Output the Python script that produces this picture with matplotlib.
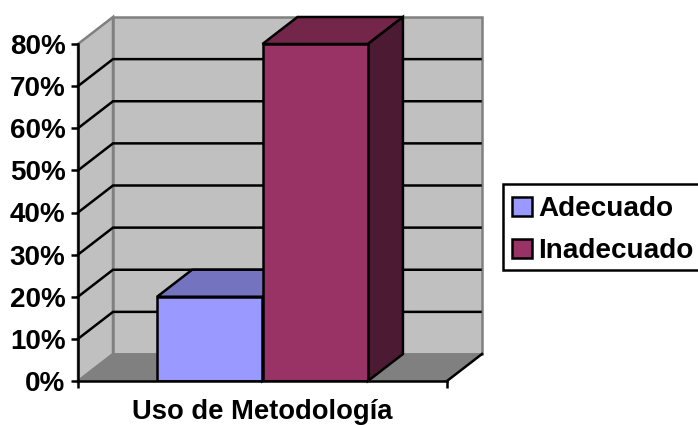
import matplotlib
matplotlib.use("Agg")
import matplotlib.pyplot as plt
from matplotlib.patches import Polygon, Patch, Rectangle

plt.rcParams['font.family'] = ['Liberation Sans', 'DejaVu Sans']

series_names = ["Adecuado", "Inadecuado"]
series_values = [20, 80]
series_colors = ["#9999FF", "#993366"]
top_colors = ["#7373BF", "#732649"]
side_colors = ["#4D4D80", "#4D1A33"]
y_ticks = [0, 10, 20, 30, 40, 50, 60, 70, 80]
category = "Uso de Metodología"

W, H = 698, 425
fig = plt.figure(figsize=(W / 100, H / 100), dpi=100)

# pixel layout
px_left, px_right, px_bottom, px_top = 78, 447, 381, 44
depth_x_px, depth_y_px = 35, 27
ux = px_right - px_left
uy = (px_bottom - px_top) / 80
dx = depth_x_px / ux
dy = depth_y_px / uy
ax = fig.add_axes([px_left / W, 1 - px_bottom / H,
                   (ux + depth_x_px) / W, (px_bottom - px_top + depth_y_px) / H])
ax.set_xlim(0, 1 + dx)
ax.set_ylim(0, 80 + dy)
ax.patch.set_visible(False)

ymax = max(y_ticks)
gray = "#808080"
wall = "#C0C0C0"
LW = 1.8

# walls and floor
ax.add_patch(Polygon([(0, 0), (dx, dy), (dx, ymax + dy), (0, ymax)], fc=wall, ec=gray, lw=LW, zorder=1, clip_on=False))
ax.add_patch(Polygon([(dx, dy), (1 + dx, dy), (1 + dx, ymax + dy), (dx, ymax + dy)], fc=wall, ec=gray, lw=LW, zorder=1, clip_on=False))
ax.add_patch(Polygon([(0, 0), (1, 0), (1 + dx, dy), (dx, dy)], fc=gray, ec=gray, lw=1, zorder=1.5))
ax.plot([1, 1 + dx], [0, dy], color="black", lw=LW, zorder=2, clip_on=False)

# gridlines
for v in y_ticks[1:-1]:
    ax.plot([0, dx, 1 + dx - 0.004], [v, v + dy, v + dy], color="black", lw=LW, zorder=2,
            solid_joinstyle="miter", clip_on=False)

# bars
bar_w = 2 / 7
for i, (val, c, tc, sc) in enumerate(zip(series_values, series_colors, top_colors, side_colors)):
    x0 = 0.5 - bar_w + i * bar_w
    x1 = x0 + bar_w
    z = 3 + i
    ax.bar(x0, val, width=bar_w, align="edge", color=c, edgecolor="black", linewidth=LW, zorder=z + 0.2)
    ax.add_patch(Polygon([(x0, val), (x1, val), (x1 + dx, val + dy), (x0 + dx, val + dy)],
                         fc=tc, ec="black", lw=LW, zorder=z, joinstyle="miter", clip_on=False))
    ax.add_patch(Polygon([(x1, 0), (x1 + dx, dy), (x1 + dx, val + dy), (x1, val)],
                         fc=sc, ec="black", lw=LW, zorder=z, joinstyle="miter", clip_on=False))

# axes
for s in ["top", "right"]:
    ax.spines[s].set_visible(False)
ax.spines["left"].set_bounds(0, ymax)
ax.spines["bottom"].set_bounds(0, 1)
for s in ["left", "bottom"]:
    ax.spines[s].set_linewidth(LW)
    ax.spines[s].set_zorder(6)
ax.set_yticks(y_ticks)
ax.set_yticklabels([f"{v}%" for v in y_ticks], fontsize=19.95, fontweight="bold")
ax.set_xticks([0, 1])
ax.set_xticklabels(["", ""])
ax.tick_params(axis="y", length=5, width=LW, pad=4)
ax.tick_params(axis="x", length=5, width=LW)
ax.text(0.5, -0.085, category, transform=ax.get_xaxis_transform(), ha="center", va="center",
        fontsize=19.7, fontweight="bold")

# legend
fig.add_artist(Rectangle((503 / W, 1 - 270 / H), 210 / W, 86 / H, transform=fig.transFigure,
                         fc="white", ec="black", lw=LW, zorder=4))
handles = [Patch(fc=c, ec="black", lw=LW) for c in series_colors]
leg = fig.legend(handles, series_names, loc="upper left",
                 bbox_to_anchor=(503 / W, 1 - 187 / H), bbox_transform=fig.transFigure,
                 borderaxespad=0, frameon=False,
                 prop={"size": 20.05, "weight": "bold"},
                 handlelength=0.71, handleheight=0.71, handletextpad=0.22,
                 borderpad=0.33, labelspacing=0.58)
leg.set_zorder(5)

fig.savefig("out.png", dpi=100)
